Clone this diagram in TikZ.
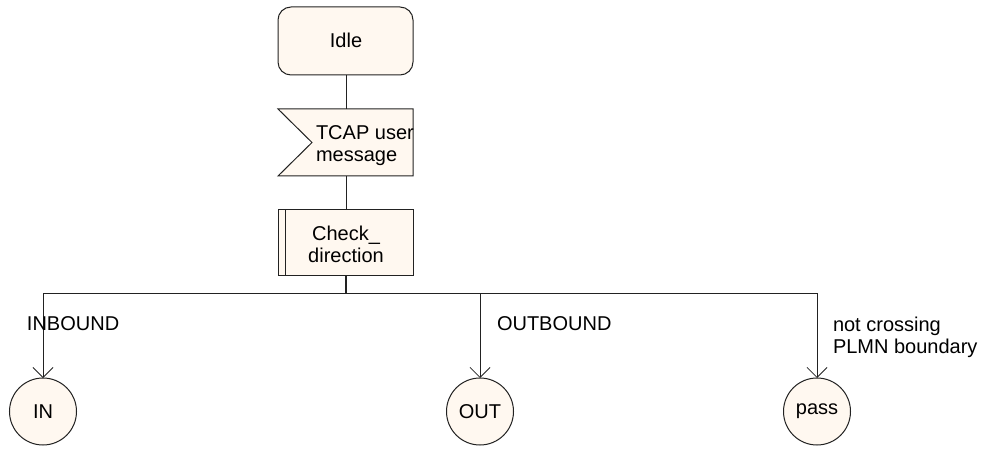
\documentclass[tikz,border=0pt]{standalone}
\usepackage{fontspec}
\setmainfont{Liberation Sans}
\usetikzlibrary{arrows.meta}
\definecolor{sdlfill}{HTML}{FFF8F0}
\definecolor{sdlline}{HTML}{222222}
\begin{document}
\begin{tikzpicture}[x=1pt,y=-1pt,
  font=\fontsize{20}{22}\selectfont,
  every node/.style={inner sep=0pt, outer sep=0pt},
  conn/.style={draw=sdlline, line width=1pt},
  arr/.style={conn, -{Straight Barb[length=10pt,width=20pt,line width=0.8pt]}},
  statebox/.style={draw=sdlline, fill=sdlfill, line width=1pt, rounded corners=13pt,
     minimum width=135pt, minimum height=68pt},
  procbox/.style={draw=sdlline, fill=sdlfill, line width=1pt,
     minimum width=135pt, minimum height=66pt},
  conncircle/.style={circle, draw=sdlline, fill=sdlfill, line width=1pt, minimum size=67pt},
  lbl/.style={anchor=base west}
]
\useasboundingbox (0,0) rectangle (991,449);

% Idle state
\node[statebox] (idle) at (345.5,41) {};
\node[anchor=base] (idletxt) at (346,48) {Idle};

% Input signal
\coordinate (msgNW) at (278,109);
\coordinate (msgNE) at (413,109);
\coordinate (msgSE) at (413,176);
\coordinate (msgSW) at (278,176);
\coordinate (msgV) at (312,142.5);
\coordinate (msgtop) at (346,109);
\coordinate (msgbot) at (346,176);
\draw[draw=sdlline, fill=sdlfill, line width=1pt] (msgNW) -- (msgNE) -- (msgSE) -- (msgSW) -- (msgV) -- cycle;
\node[anchor=base west, align=left] (msgtxt) at (316,162) {TCAP user\\message};

% Procedure call
\node[procbox] (check) at (345.5,243) {};
\draw[draw=sdlline, line width=1pt] ([xshift=7pt]check.north west) -- ([xshift=7pt]check.south west);
\node[anchor=base, align=center] (checktxt) at (346,262) {Check\_\\direction};

% Connectors
\draw[conn] (idle.south -| msgtop) -- (msgtop);
\draw[conn] (msgbot) -- (check.north -| msgbot);
\coordinate (junc) at (346,293);
\draw[draw=sdlline, line width=1.8pt] (check.south -| junc) -- (junc);

% Terminals
\node[conncircle] (in) at (43,411.5) {IN};
\node[conncircle] (out) at (480,411.5) {OUT};
\node[conncircle] (pass) at (817,411.5) {pass};

\draw[conn] (junc) -- (in.north |- junc);
\draw[conn] (junc) -- (pass.north |- junc);
\draw[arr] (in.north |- junc) -- (in.north);
\draw[arr] (out.north |- junc) -- (out.north);
\draw[arr] (pass.north |- junc) -- (pass.north);

% Labels
\node[lbl] (inlbl) at (27,330) {INBOUND};
\node[lbl] (outlbl) at (497,330) {OUTBOUND};
\node[lbl, align=left] (passlbl) at (833,353) {not crossing\\PLMN boundary};
\end{tikzpicture}
\end{document}
